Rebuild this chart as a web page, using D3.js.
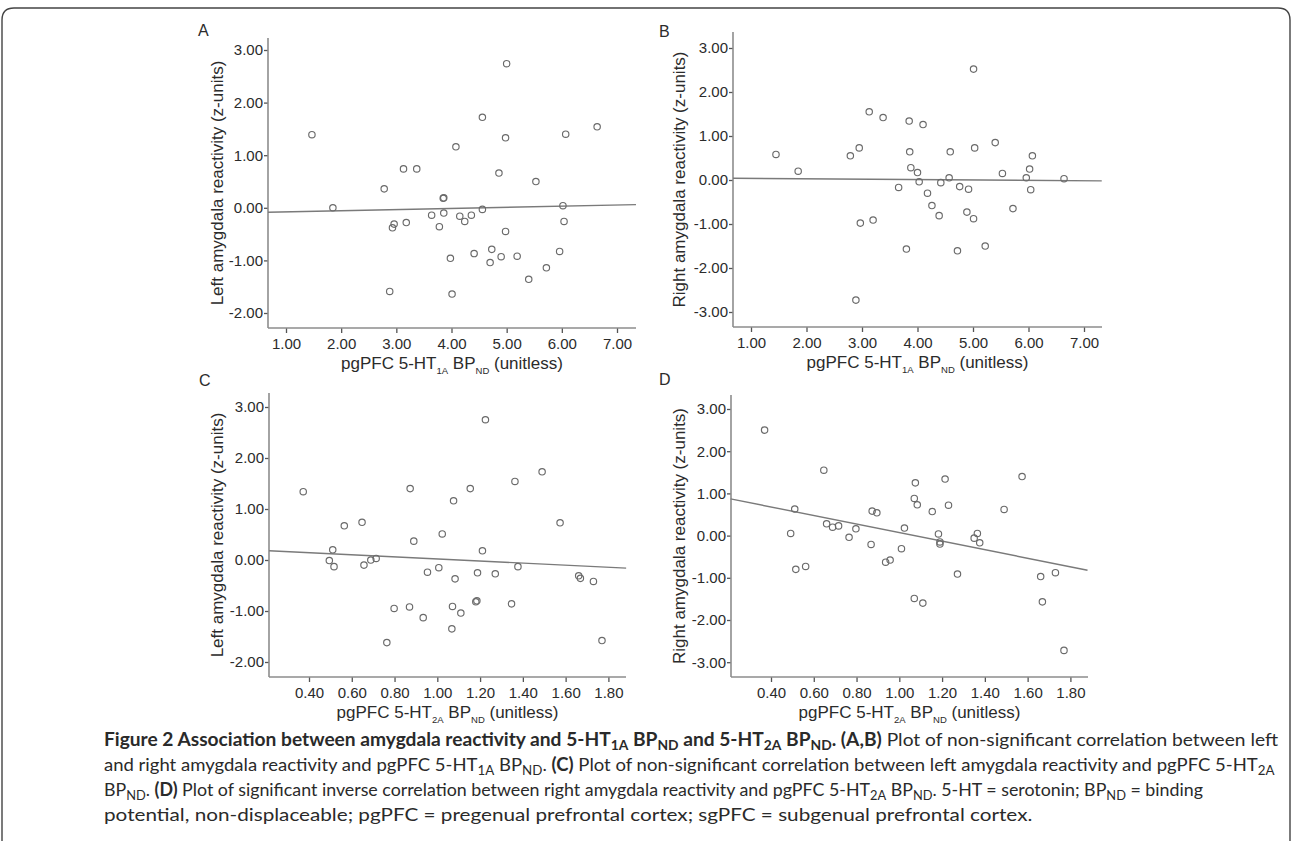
<!DOCTYPE html>
<html><head><meta charset="utf-8">
<script src="https://cdn.jsdelivr.net/npm/d3@7"></script>
<style>body{margin:0;background:#fff} svg{display:block}</style>
</head><body>
<svg id="chart" width="1293" height="841"></svg>
<script>
// ---------------- data ----------------
const ticks1A = [1, 2, 3, 4, 5, 6, 7];
const ticks2A = [0.4, 0.6, 0.8, 1.0, 1.2, 1.4, 1.6, 1.8];
const ticksLeft = [-2, -1, 0, 1, 2, 3];
const ticksRight = [-3, -2, -1, 0, 1, 2, 3];

// A: pgPFC 5-HT1A BPND vs left amygdala
const pointsA = [[1.47,1.39],[1.85,0.00],[5.00,2.74],[4.56,1.72],[4.98,1.33],[6.07,1.40],[4.08,1.16],[3.13,0.74],[3.37,0.74],[4.86,0.66],[5.53,0.50],[2.78,0.36],[3.85,0.18],[3.86,0.19],[6.02,0.04],[4.56,-0.03],[3.64,-0.14],[3.86,-0.10],[4.15,-0.16],[4.24,-0.26],[4.36,-0.14],[2.96,-0.31],[2.93,-0.38],[3.18,-0.28],[3.78,-0.36],[6.04,-0.26],[4.98,-0.45],[3.98,-0.96],[4.41,-0.87],[4.73,-0.79],[4.70,-1.04],[4.90,-0.93],[5.19,-0.92],[5.96,-0.83],[5.72,-1.14],[5.40,-1.36],[2.88,-1.59],[4.01,-1.64],[6.64,1.54]];
const fitA = [[0.674,-0.085],[7.344,0.06]];
// B: pgPFC 5-HT1A BPND vs right amygdala
const pointsB = [[1.45,0.58],[1.85,0.20],[5.01,2.52],[3.13,1.55],[3.38,1.42],[3.85,1.34],[4.10,1.26],[2.79,0.55],[2.95,0.73],[3.86,0.64],[4.59,0.64],[5.03,0.73],[3.88,0.28],[4.00,0.17],[4.03,-0.04],[3.66,-0.17],[4.18,-0.30],[4.42,-0.06],[4.57,0.05],[4.76,-0.15],[4.92,-0.21],[4.26,-0.58],[4.39,-0.81],[4.89,-0.73],[5.01,-0.88],[2.97,-0.98],[3.20,-0.91],[3.80,-1.57],[4.72,-1.61],[5.22,-1.50],[2.89,-2.73],[5.40,0.85],[5.53,0.15],[5.72,-0.65],[5.96,0.05],[6.02,0.25],[6.07,0.55],[6.04,-0.22],[6.64,0.03]];
const fitB = [[0.676,0.04],[7.32,-0.02]];
// C: pgPFC 5-HT2A BPND vs left amygdala
const pointsC = [[0.373,1.34],[0.565,0.67],[0.648,0.74],[0.511,0.20],[0.495,-0.01],[0.517,-0.13],[0.657,-0.10],[0.689,0.00],[0.714,0.03],[1.225,2.75],[1.49,1.73],[1.363,1.54],[0.873,1.40],[1.154,1.40],[1.076,1.16],[1.574,0.73],[1.023,0.51],[0.89,0.37],[1.211,0.18],[1.377,-0.13],[1.007,-0.15],[0.954,-0.24],[1.188,-0.25],[1.271,-0.27],[1.083,-0.37],[1.661,-0.31],[1.669,-0.36],[1.185,-0.80],[1.18,-0.82],[1.347,-0.86],[0.798,-0.95],[0.87,-0.92],[1.071,-0.91],[1.11,-1.04],[0.934,-1.13],[1.068,-1.35],[0.764,-1.62],[1.73,-0.42],[1.77,-1.58]];
const fitC = [[0.213,0.18],[1.883,-0.16]];
// D: pgPFC 5-HT2A BPND vs right amygdala
const pointsD = [[0.37,2.50],[0.647,1.55],[0.511,0.63],[0.492,0.05],[0.516,-0.80],[0.562,-0.73],[0.66,0.28],[0.688,0.20],[0.716,0.23],[0.765,-0.04],[0.797,0.16],[0.868,-0.21],[0.873,0.58],[0.895,0.54],[0.936,-0.63],[0.957,-0.58],[1.01,-0.31],[1.024,0.18],[1.075,1.25],[1.07,0.88],[1.084,0.73],[1.154,0.57],[1.214,1.34],[1.23,0.72],[1.183,0.04],[1.19,-0.15],[1.19,-0.20],[1.272,-0.91],[1.07,-1.49],[1.11,-1.60],[1.365,0.05],[1.35,-0.06],[1.376,-0.17],[1.49,0.62],[1.574,1.40],[1.661,-0.97],[1.669,-1.57],[1.73,-0.88],[1.77,-2.72]];
const fitD = [[0.211,0.87],[1.88,-0.82]];

const yTitles = ["Left amygdala reactivity (z-units)", "Right amygdala reactivity (z-units)"];
const xTitle1A = [["pgPFC 5-HT",0],["1A",1],[" BP",0],["ND",1],[" (unitless)",0]];
const xTitle2A = [["pgPFC 5-HT",0],["2A",1],[" BP",0],["ND",1],[" (unitless)",0]];

const captionLines = [
  [["Figure 2 Association between amygdala reactivity and 5-HT","b"],["1A","bs"],[" BP","b"],["ND","bs"],[" and 5-HT","b"],["2A","bs"],[" BP","b"],["ND","bs"],[". (A,B)","b"],[" Plot of non-significant correlation between left",""]],
  [["and right amygdala reactivity and pgPFC 5-HT",""],["1A","s"],[" BP",""],["ND","s"],[". ",""],["(C)","b"],[" Plot of non-significant correlation between left amygdala reactivity and pgPFC 5-HT",""],["2A","s"]],
  [["BP",""],["ND","s"],[". ",""],["(D)","b"],[" Plot of significant inverse correlation between right amygdala reactivity and pgPFC 5-HT",""],["2A","s"],[" BP",""],["ND","s"],[". 5-HT = serotonin; BP",""],["ND","s"],[" = binding",""]],
  [["potential, non-displaceable; pgPFC = pregenual prefrontal cortex; sgPFC = subgenual prefrontal cortex.",""]]
];

// ---------------- layout ----------------
const panels = [
  {label:"A", pts:pointsA, fit:fitA, xt:ticks1A, yt:ticksLeft, title:yTitles[0], xtitle:xTitle1A,
   xA:[1,7], xR:[286,617], yA:[-2,3], yR:[313,50], left:268, right:636, top:38, bottom:328, lab:[198,36], ytOff:51},
  {label:"B", pts:pointsB, fit:fitB, xt:ticks1A, yt:ticksRight, title:yTitles[1], xtitle:xTitle1A,
   xA:[1,7], xR:[751,1084], yA:[-3,3], yR:[312,48], left:733, right:1102, top:32, bottom:327, lab:[659,37], ytOff:54},
  {label:"C", pts:pointsC, fit:fitC, xt:ticks2A, yt:ticksLeft, title:yTitles[0], xtitle:xTitle2A,
   xA:[0.4,1.8], xR:[309,608.4], yA:[-1,3], yR:[611,407], left:269, right:626, top:393, bottom:677, lab:[199,386], ytOff:52},
  {label:"D", pts:pointsD, fit:fitD, xt:ticks2A, yt:ticksRight, title:yTitles[1], xtitle:xTitle2A,
   xA:[0.4,1.8], xR:[771,1070.4], yA:[-2,3], yR:[620,409], left:731, right:1088, top:395, bottom:677, lab:[659,385], ytOff:52}
];

const svg = d3.select("#chart");
const TXT = "#2b2b2b", AX = "#8d8d8d", TK = "#555";
const fAx = "'Liberation Sans', Arial, sans-serif";

// frame
svg.append("path")
  .attr("d", "M2,841 V20 Q2,8 14,8 H1278 Q1290,8 1290,20 V841")
  .attr("fill","none").attr("stroke","#444").attr("stroke-width",1.4);

panels.forEach(p => {
  const g = svg.append("g");
  const x = d3.scaleLinear().domain(p.xA).range(p.xR);
  const y = d3.scaleLinear().domain(p.yA).range(p.yR);

  const gx = g.append("g").attr("transform", `translate(0,${p.bottom})`)
    .call(d3.axisBottom(x).tickValues(p.xt).tickSize(5).tickPadding(5).tickFormat(d => d.toFixed(2)));
  const gy = g.append("g").attr("transform", `translate(${p.left},0)`)
    .call(d3.axisLeft(y).tickValues(p.yt).tickSize(4).tickPadding(1).tickFormat(d => d.toFixed(2)));
  [gx, gy].forEach(a => {
    a.select(".domain").remove();
    a.selectAll(".tick line").attr("stroke", TK).attr("stroke-width", 1.3);
    a.selectAll(".tick text").attr("fill", TXT).style("font-family", fAx).style("font-size", "15px");
  });

  g.append("line").attr("x1", p.left).attr("x2", p.left).attr("y1", p.top).attr("y2", p.bottom)
    .attr("stroke", AX).attr("stroke-width", 1.6);
  g.append("line").attr("x1", p.left).attr("x2", p.right).attr("y1", p.bottom).attr("y2", p.bottom)
    .attr("stroke", AX).attr("stroke-width", 1.6);

  g.append("line")
    .attr("x1", x(p.fit[0][0])).attr("y1", y(p.fit[0][1]))
    .attr("x2", x(p.fit[1][0])).attr("y2", y(p.fit[1][1]))
    .attr("stroke", "#7a7a7a").attr("stroke-width", 1.4);

  g.selectAll("circle.pt").data(p.pts).join("circle").attr("class","pt")
    .attr("cx", d => x(d[0])).attr("cy", d => y(d[1])).attr("r", 3.2)
    .attr("fill", "none").attr("stroke", "#6a6a6a").attr("stroke-width", 1.15);

  g.append("text").attr("x", p.lab[0]).attr("y", p.lab[1]).text(p.label)
    .attr("fill", TXT).style("font-family", fAx).style("font-size", "16px");

  const cy = (p.top + p.bottom) / 2;
  g.append("text").attr("transform", `translate(${p.left - p.ytOff + 6},${cy}) rotate(-90)`)
    .attr("text-anchor", "middle").attr("fill", TXT)
    .style("font-family", fAx).style("font-size", "17px").text(p.title);

  const xt = g.append("text").attr("x", (p.left + p.right) / 2).attr("y", p.bottom + 41)
    .attr("text-anchor", "middle").attr("fill", TXT)
    .style("font-family", fAx).style("font-size", "17px");
  let prevSub = false;
  p.xtitle.forEach(([t, s]) => {
    const ts = xt.append("tspan").text(t);
    if (s) { ts.style("font-size", "9.5px").attr("dy", prevSub ? 0 : 5); }
    else if (prevSub) { ts.attr("dy", -5); }
    prevSub = !!s;
  });
});

// caption
const capX = 104, capBase = [746, 771, 796, 821], capW = [1175, 1171, 1100, 968];
captionLines.forEach((segs, i) => {
  const t = svg.append("text").attr("x", 0).attr("y", 0)
    .attr("fill", "#2a2a2a").style("font-family", "Lato, 'Open Sans', sans-serif").style("font-size", "18px");
  let prevSub = false;
  segs.forEach(([s, st]) => {
    const ts = t.append("tspan").text(s);
    const sub = (st === "s" || st === "bs");
    if (st.startsWith("b")) ts.style("font-weight", "bold");
    if (sub) { ts.style("font-size", "13px").attr("dy", prevSub ? 0 : 4); }
    else if (prevSub) { ts.attr("dy", -4); }
    prevSub = sub;
  });
  const w = t.node().getComputedTextLength();
  let sx = capW[i] / w;
  sx = Math.max(0.85, Math.min(1.15, sx));
  t.attr("transform", `translate(${capX},${capBase[i]}) scale(${sx},1)`);
});
</script>
</body></html>
